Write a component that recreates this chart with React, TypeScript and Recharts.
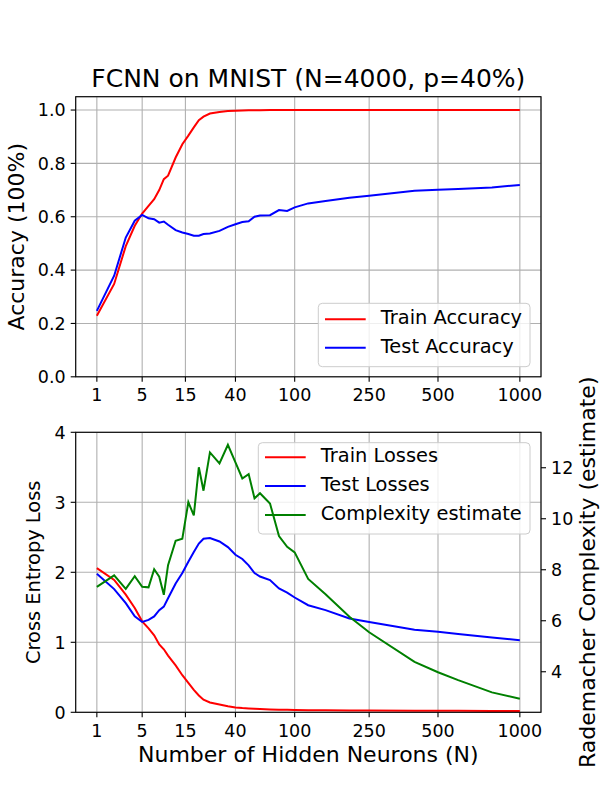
import React from 'react';
import { LineChart, Line, XAxis, YAxis, CartesianGrid } from 'recharts';

// hidden layer sizes and the measured curves
const NEURONS = [1, 2, 3, 4, 5, 6, 7, 8, 9, 10, 12, 14, 16, 18, 20, 22, 25, 30, 35, 40, 45, 50, 55, 60, 70, 80, 90, 100, 120, 150, 200, 250, 400, 500, 600, 800, 1000];
const TRAIN_ACC = [0.229, 0.348, 0.49, 0.566, 0.612, 0.641, 0.666, 0.7, 0.741, 0.754, 0.822, 0.872, 0.904, 0.935, 0.962, 0.975, 0.987, 0.993, 0.996, 0.997, 0.998, 0.999, 0.999, 0.999, 1.0, 1.0, 1.0, 1.0, 1.0, 1.0, 1.0, 1.0, 1.0, 1.0, 1.0, 1.0, 1.0];
const TEST_ACC = [0.247, 0.379, 0.522, 0.585, 0.607, 0.594, 0.591, 0.578, 0.582, 0.57, 0.55, 0.541, 0.535, 0.529, 0.529, 0.535, 0.537, 0.547, 0.562, 0.572, 0.58, 0.583, 0.6, 0.605, 0.606, 0.625, 0.622, 0.635, 0.65, 0.659, 0.671, 0.679, 0.697, 0.701, 0.704, 0.71, 0.719];
const TRAIN_LOSS = [2.06, 1.89, 1.68, 1.49, 1.3, 1.2, 1.1, 0.97, 0.9, 0.81, 0.67, 0.53, 0.42, 0.32, 0.24, 0.18, 0.14, 0.11, 0.085, 0.07, 0.06, 0.055, 0.05, 0.046, 0.04, 0.037, 0.035, 0.032, 0.03, 0.028, 0.026, 0.025, 0.023, 0.022, 0.021, 0.02, 0.02];
const TEST_LOSS = [1.98, 1.76, 1.56, 1.37, 1.29, 1.32, 1.37, 1.46, 1.51, 1.63, 1.84, 1.99, 2.15, 2.29, 2.41, 2.48, 2.49, 2.44, 2.36, 2.25, 2.19, 2.1, 1.99, 1.94, 1.89, 1.77, 1.71, 1.64, 1.53, 1.46, 1.34, 1.29, 1.18, 1.15, 1.12, 1.07, 1.03];
const COMPLEXITY = [7.33, 7.78, 7.25, 7.75, 7.33, 7.31, 8.02, 7.73, 7.02, 8.18, 9.14, 9.22, 10.65, 10.13, 12.02, 11.1, 12.6, 12.17, 12.9, 12.21, 11.58, 11.75, 10.8, 11.0, 10.6, 9.32, 8.9, 8.68, 7.64, 7.04, 6.16, 5.55, 4.39, 3.98, 3.67, 3.19, 2.94];

const X_TICKS = [1, 5, 15, 40, 100, 250, 500, 1000];
const ACC_TICKS = [0, 0.2, 0.4, 0.6, 0.8, 1.0];
const LOSS_TICKS = [0, 1, 2, 3, 4];
const COMPLEXITY_TICKS = [4, 6, 8, 10, 12];

// x axis is spaced as N^(1/4)
const q = (n: number) => Math.pow(n, 0.25);
const pad = 0.05 * (q(1000) - q(1));
const X_DOMAIN: [number, number] = [q(1) - pad, q(1000) + pad];

const data = NEURONS.map((n, i) => ({
  x: q(n),
  trainAcc: TRAIN_ACC[i],
  testAcc: TEST_ACC[i],
  trainLoss: TRAIN_LOSS[i],
  testLoss: TEST_LOSS[i],
  complexity: COMPLEXITY[i],
}));

const FONT = 'DejaVu Sans';
const tickStyle = { fontSize: 17.5, fill: '#000', fontFamily: FONT };
const tickLine = { stroke: '#000', strokeWidth: 1.1 };

const LEFT = 75.7;
const RIGHT = 541;
const TOP_Y0 = 96.7;
const TOP_Y1 = 376.8;
const BOT_Y0 = 432.3;
const BOT_Y1 = 712.3;

const xAxis = (
  <XAxis
    dataKey="x"
    type="number"
    domain={X_DOMAIN}
    allowDataOverflow
    ticks={X_TICKS.map(q)}
    tickFormatter={(v: number) => String(Math.round(Math.pow(v, 4)))}
    interval={0}
    height={30}
    axisLine={false}
    tickLine={tickLine}
    tickSize={5}
    tickMargin={7}
    tick={tickStyle}
  />
);

const LegendBox = ({ x, y, w, h, rows }: { x: number; y: number; w: number; h: number; rows: { label: string; color: string; cy: number }[] }) => (
  <g>
    <rect x={x} y={y} width={w} height={h} rx={4} fill="#fff" fillOpacity={0.8} stroke="#cccccc" strokeWidth={1} />
    {rows.map((r) => (
      <g key={r.label}>
        <line x1={x + 6.7} x2={x + 47.4} y1={r.cy} y2={r.cy} stroke={r.color} strokeWidth={2} />
        <text x={x + 62.5} y={r.cy + 5} fontSize={19.4} fontFamily={FONT} fill="#000">{r.label}</text>
      </g>
    ))}
  </g>
);

export default function App() {
  return (
    <div style={{ position: 'absolute', left: 0, top: 0, width: 600, height: 800, background: '#fff' }}>
      <div style={{ position: 'absolute', left: 0, top: 0 }}>
        <LineChart width={600} height={420} data={data} margin={{ top: TOP_Y0, right: 600 - RIGHT, left: 0, bottom: 420 - TOP_Y1 - 30 }}>
          <CartesianGrid stroke="#b0b0b0" strokeWidth={1.1} />
          {xAxis}
          <YAxis
            type="number"
            domain={[0, 1.05]}
            allowDataOverflow
            ticks={ACC_TICKS}
            tickFormatter={(v: number) => v.toFixed(1)}
            interval={0}
            width={LEFT}
            axisLine={false}
            tickLine={tickLine}
            tickSize={5}
            tickMargin={5}
            tick={tickStyle}
          />
          <Line dataKey="trainAcc" stroke="#ff0000" strokeWidth={2} dot={false} isAnimationActive={false} />
          <Line dataKey="testAcc" stroke="#0000ff" strokeWidth={2} dot={false} isAnimationActive={false} />
        </LineChart>
      </div>

      <div style={{ position: 'absolute', left: 0, top: 400 }}>
        <LineChart width={600} height={400} data={data} margin={{ top: BOT_Y0 - 400, right: 0, left: 0, bottom: 800 - BOT_Y1 - 30 }}>
          <CartesianGrid stroke="#b0b0b0" strokeWidth={1.1} yAxisId="loss" />
          {xAxis}
          <YAxis
            yAxisId="loss"
            type="number"
            domain={[0, 4]}
            allowDataOverflow
            ticks={LOSS_TICKS}
            interval={0}
            width={LEFT}
            axisLine={false}
            tickLine={tickLine}
            tickSize={5}
            tickMargin={5}
            tick={tickStyle}
          />
          <YAxis
            yAxisId="cx"
            orientation="right"
            type="number"
            domain={[2.41, 13.39]}
            allowDataOverflow
            ticks={COMPLEXITY_TICKS}
            interval={0}
            width={600 - RIGHT}
            axisLine={false}
            tickLine={tickLine}
            tickSize={5}
            tickMargin={5}
            tick={tickStyle}
          />
          <Line yAxisId="loss" dataKey="trainLoss" stroke="#ff0000" strokeWidth={2} dot={false} isAnimationActive={false} />
          <Line yAxisId="loss" dataKey="testLoss" stroke="#0000ff" strokeWidth={2} dot={false} isAnimationActive={false} />
        </LineChart>
      </div>

      <svg width={600} height={800} style={{ position: 'absolute', left: 0, top: 0, pointerEvents: 'none' }}>
        <rect x={LEFT} y={TOP_Y0} width={RIGHT - LEFT} height={TOP_Y1 - TOP_Y0} fill="none" stroke="#000" strokeWidth={1.1} />
        <rect x={LEFT} y={BOT_Y0} width={RIGHT - LEFT} height={BOT_Y1 - BOT_Y0} fill="none" stroke="#000" strokeWidth={1.1} />
        <text x={(LEFT + RIGHT) / 2} y={87.3} textAnchor="middle" fontSize={25} fontFamily={FONT}>FCNN on MNIST (N=4000, p=40%)</text>
        <text transform={`translate(24,${(TOP_Y0 + TOP_Y1) / 2}) rotate(-90)`} textAnchor="middle" fontSize={22} fontFamily={FONT}>Accuracy (100%)</text>
        <text transform={`translate(39.5,${(BOT_Y0 + BOT_Y1) / 2}) rotate(-90)`} textAnchor="middle" fontSize={19.4} fontFamily={FONT}>Cross Entropy Loss</text>
        <text transform={`translate(595,${(BOT_Y0 + BOT_Y1) / 2}) rotate(-90)`} textAnchor="middle" fontSize={22} fontFamily={FONT}>Rademacher Complexity (estimate)</text>
        <text x={(LEFT + RIGHT) / 2} y={762.3} textAnchor="middle" fontSize={22} fontFamily={FONT}>Number of Hidden Neurons (N)</text>
        <LegendBox
          x={318.3} y={303.3} w={211.7} h={63.4}
          rows={[
            { label: 'Train Accuracy', color: '#ff0000', cy: 319.3 },
            { label: 'Test Accuracy', color: '#0000ff', cy: 347.7 },
          ]}
        />
        <LegendBox
          x={258.3} y={442.7} w={271.7} h={91.3}
          rows={[
            { label: 'Train Losses', color: '#ff0000', cy: 457.3 },
            { label: 'Test Losses', color: '#0000ff', cy: 486 },
            { label: 'Complexity estimate', color: '#008000', cy: 515 },
          ]}
        />
      </svg>

      {/* complexity curve drawn last so it sits over the legend, as in the original */}
      <div style={{ position: 'absolute', left: 0, top: 400 }}>
        <LineChart width={600} height={400} data={data} margin={{ top: BOT_Y0 - 400, right: 600 - RIGHT, left: LEFT, bottom: 800 - BOT_Y1 }}>
          <XAxis dataKey="x" type="number" domain={X_DOMAIN} allowDataOverflow hide />
          <YAxis yAxisId="cx" type="number" domain={[2.41, 13.39]} allowDataOverflow hide />
          <Line yAxisId="cx" dataKey="complexity" stroke="#008000" strokeWidth={2} dot={false} isAnimationActive={false} />
        </LineChart>
      </div>
    </div>
  );
}
